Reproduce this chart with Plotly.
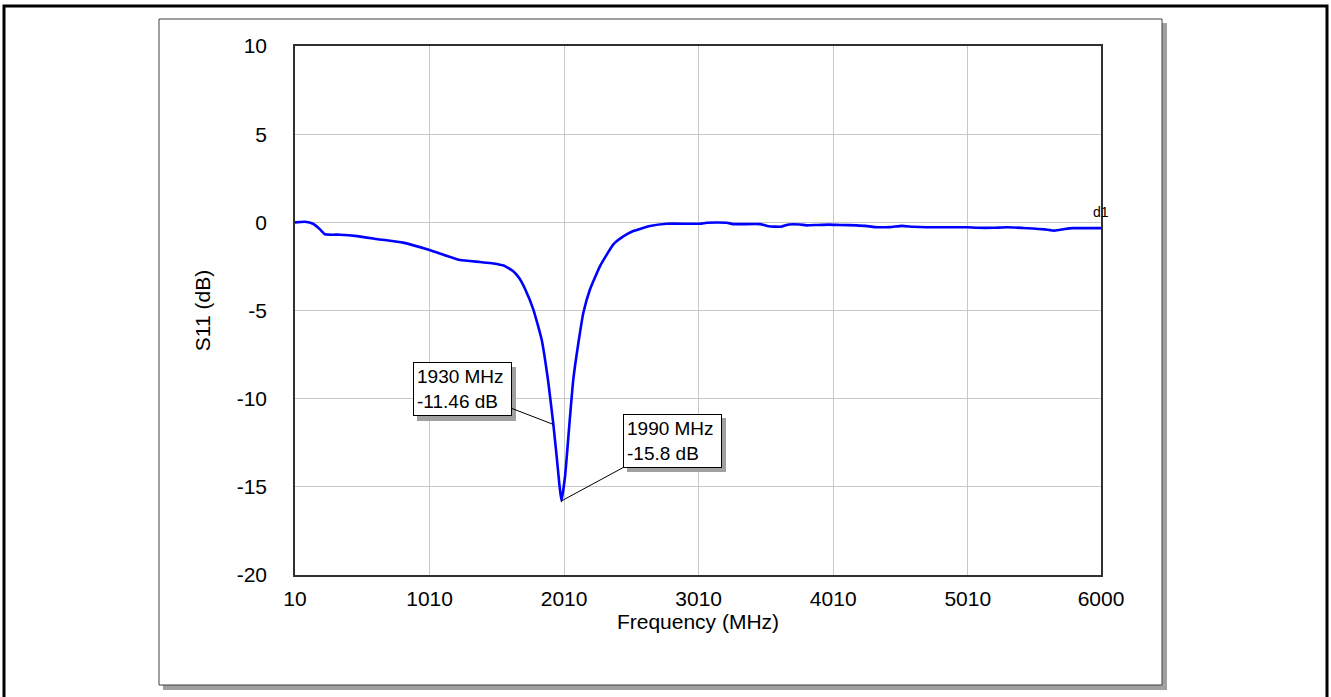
import plotly.graph_objects as go

# ---- data ----
freq_mhz = [10, 84, 144, 196, 233, 344, 471, 642, 813, 1010, 1137, 1236, 1385, 1484,
            1560, 1632, 1680, 1719, 1781, 1843, 1893, 1930, 1955, 1974, 1990, 2017,
            2054, 2078, 2113, 2153, 2202, 2277, 2376, 2450, 2524, 2648, 2772, 3020,
            3070, 3218, 3265, 3466, 3530, 3620, 3680, 3763, 3810, 3889, 3980, 4060,
            4180, 4250, 4320, 4432, 4520, 4600, 4700, 5004, 5080, 5200, 5300, 5420,
            5494, 5580, 5655, 5730, 5792, 6000]
s11_db = [0.0, 0.03, -0.08, -0.4, -0.68, -0.7, -0.78, -0.97, -1.15, -1.57, -1.9, -2.14,
          -2.25, -2.33, -2.45, -2.77, -3.2, -3.77, -4.94, -6.65, -9.1, -11.46, -13.3,
          -14.8, -15.8, -14.4, -11.0, -8.92, -7.0, -5.13, -3.81, -2.48, -1.25, -0.8,
          -0.49, -0.21, -0.08, -0.08, -0.02, -0.02, -0.1, -0.1, -0.22, -0.25, -0.12,
          -0.12, -0.17, -0.15, -0.13, -0.15, -0.17, -0.2, -0.27, -0.27, -0.2, -0.25,
          -0.28, -0.28, -0.31, -0.31, -0.28, -0.32, -0.35, -0.4, -0.47, -0.38, -0.33,
          -0.33]
x_ticks = [10, 1010, 2010, 3010, 4010, 5010, 6000]
y_ticks = [10, 5, 0, -5, -10, -15, -20]
markers_f = [1930, 1990]
markers_db = [-11.46, -15.8]
trace_name = "d1"

W, H = 1331, 697
L, R, T, B = 295, 1101, 46, 575
FONT = "Liberation Sans, Arial, sans-serif"


def px(x):
    return (x - L) / (R - L)


def py(y):
    return (B - y) / (B - T)


fig = go.Figure()
fig.add_trace(go.Scatter(x=freq_mhz, y=s11_db, mode="lines", name=trace_name,
                         line=dict(color="#0000FF", width=2.6, shape="spline", smoothing=0.4),
                         showlegend=False))

shapes = [
    # outer frame
    dict(type="rect", xref="paper", yref="paper", x0=px(4), x1=px(1327), y0=py(6), y1=py(710),
         line=dict(color="black", width=3), layer="below"),
    # panel shadow
    dict(type="rect", xref="paper", yref="paper", x0=px(163), x1=px(1167), y0=py(23), y1=py(690),
         line=dict(width=0), fillcolor="#a0a0a0", layer="below"),
    # panel
    dict(type="rect", xref="paper", yref="paper", x0=px(159), x1=px(1162), y0=py(19), y1=py(685),
         line=dict(color="#404040", width=1), fillcolor="white", layer="below"),
]

# marker label boxes: offsets (pixels) from the marked point to the box centre
box_offsets = [(-91, -35), (111, -60)]
box_shadows = [(417, 367, 516, 421), (627, 418, 726, 472)]

annotations = []
for f, d, (ax, ay), (sx0, sy0, sx1, sy1) in zip(markers_f, markers_db, box_offsets, box_shadows):
    shapes.append(dict(type="rect", xref="paper", yref="paper", x0=px(sx0), x1=px(sx1),
                       y0=py(sy0), y1=py(sy1), line=dict(width=0), fillcolor="#a0a0a0",
                       layer="above"))
    annotations.append(dict(x=f, y=d, xref="x", yref="y", text=f"{f} MHz<br>{d:g} dB",
                            showarrow=True, ax=ax, ay=ay, arrowcolor="black", arrowwidth=1,
                            arrowhead=0, align="left", width=91, height=46, bgcolor="white",
                            bordercolor="black", borderwidth=1, borderpad=3,
                            font=dict(family=FONT, size=19, color="black")))

annotations.append(dict(x=1, y=py(212), xref="paper", yref="paper", text=trace_name,
                        showarrow=False, xanchor="center", yanchor="middle",
                        font=dict(family=FONT, size=14, color="black")))

fig.update_layout(
    width=W, height=H,
    margin=dict(l=L, r=W - R, t=T, b=H - B),
    paper_bgcolor="white", plot_bgcolor="white",
    font=dict(family=FONT, size=21, color="black"),
    shapes=shapes, annotations=annotations,
)
fig.update_xaxes(range=[10, 6000], tickmode="array", tickvals=x_ticks,
                 ticktext=[str(v) for v in x_ticks], showgrid=True, gridcolor="#c8c8c8",
                 gridwidth=1, zeroline=False, showline=True, mirror=True, linecolor="#303030",
                 linewidth=1.5, ticks="", ticklabelstandoff=4,
                 title=dict(text="Frequency (MHz)", standoff=2, font=dict(size=21)))
fig.update_yaxes(range=[-20, 10], tickmode="array", tickvals=y_ticks,
                 ticktext=[str(v) for v in y_ticks], showgrid=True, gridcolor="#c8c8c8",
                 gridwidth=1, zeroline=False, showline=True, mirror=True, linecolor="#303030",
                 linewidth=1.5, ticks="", ticklabelstandoff=22,
                 title=dict(text="S11 (dB)", standoff=20, font=dict(size=21)))

fig.write_html("out.html")
